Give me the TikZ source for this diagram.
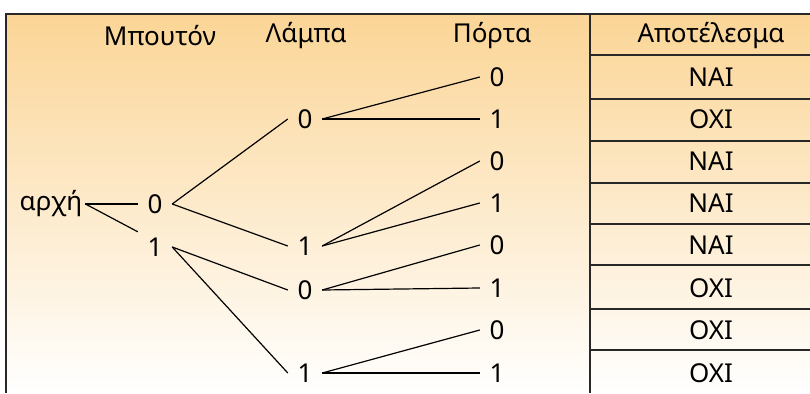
\documentclass[tikz,border=0pt]{standalone}
\usepackage{fontspec}
\setmainfont{Noto Sans}
\definecolor{topor}{RGB}{251,213,150}
\definecolor{framec}{RGB}{40,40,40}
\begin{document}
\begin{tikzpicture}[x=1pt,y=1pt,
  txt/.style={font=\fontsize{26}{30}\selectfont, inner sep=3pt, anchor=center},
  dig/.style={txt, inner sep=0pt, minimum width=34pt, minimum height=30pt},
  conn/.style={line width=1.2pt, black},
  framel/.style={line width=1.4pt, draw=framec}]
\useasboundingbox (0,0) rectangle (810,-393);
\fill[white] (0,0) rectangle (810,-393);
\shade[top color=topor, bottom color=white] (6,-14) rectangle (810,-393);
\draw[framel] (6,-393) -- (6,-14) -- (810,-14);
\draw[framel] (590,-14) -- (590,-393);
\foreach \yy in {55,99,141,183,224,265,309,350}
  \draw[framel] (590,-\yy) -- (810,-\yy);
% headers
\node[txt] (h1) at (160,-36) {Μπουτόν};
\node[txt] (h2) at (306,-36) {Λάμπα};
\node[txt] (h3) at (492,-36) {Πόρτα};
\node[txt] (h4) at (711,-36) {Αποτέλεσμα};
% tree
\node[txt] (st) at (51,-204) {αρχή};
\node[dig] (b0) at (155,-204) {0};
\node[dig] (b1) at (155,-247) {1};
\node[dig] (l0) at (305,-119) {0};
\node[dig] (l1) at (305,-246) {1};
\node[dig] (l2) at (305,-290) {0};
\node[dig] (l3) at (305,-373) {1};
\node[dig] (p1) at (497,-77) {0};
\node[dig] (p2) at (497,-119) {1};
\node[dig] (p3) at (497,-161) {0};
\node[dig] (p4) at (497,-203) {1};
\node[dig] (p5) at (497,-245) {0};
\node[dig] (p6) at (497,-288) {1};
\node[dig] (p7) at (497,-330) {0};
\node[dig] (p8) at (497,-373) {1};
% results
\node[txt] (r1) at (711,-77) {ΝΑΙ};
\node[txt] (r2) at (711,-119) {ΟΧΙ};
\node[txt] (r3) at (711,-161) {ΝΑΙ};
\node[txt] (r4) at (711,-203) {ΝΑΙ};
\node[txt] (r5) at (711,-245) {ΝΑΙ};
\node[txt] (r6) at (711,-288) {ΟΧΙ};
\node[txt] (r7) at (711,-330) {ΟΧΙ};
\node[txt] (r8) at (711,-373) {ΟΧΙ};
% connectors
\draw[conn] (st.east) -- (b0.west);
\draw[conn] (st.east) -- (b1.north west);
\draw[conn] (b0.east) -- (l0.west);
\draw[conn] (b0.east) -- (l1.west);
\draw[conn] (b1.east) -- (l2.west);
\draw[conn] (b1.east) -- (l3.west);
\draw[conn] (l0.east) -- (p1.west);
\draw[conn] (l0.east) -- (p2.west);
\draw[conn] (l1.east) -- (p3.west);
\draw[conn] (l1.east) -- (p4.west);
\draw[conn] (l2.east) -- (p5.west);
\draw[conn] (l2.east) -- (p6.west);
\draw[conn] (l3.east) -- (p7.west);
\draw[conn] (l3.east) -- (p8.west);
\end{tikzpicture}
\end{document}
